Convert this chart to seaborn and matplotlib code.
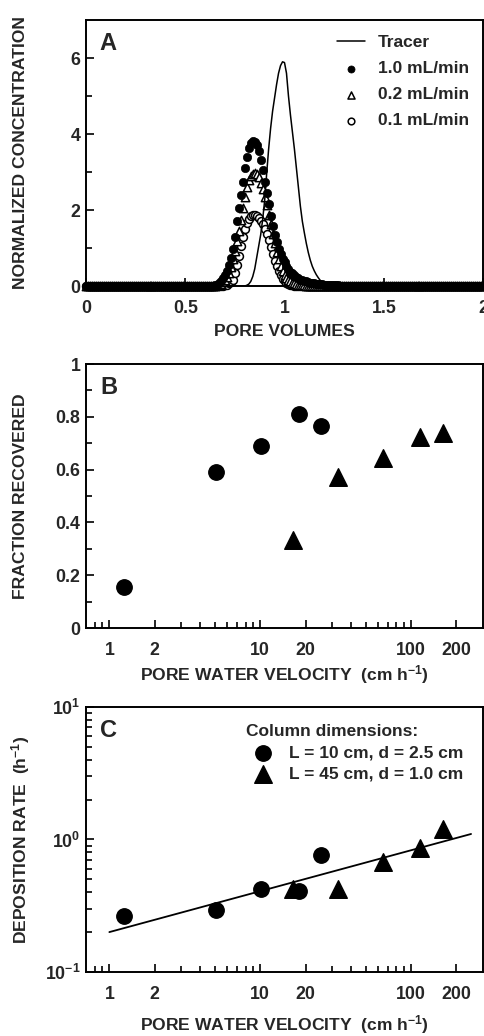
import matplotlib
matplotlib.use("Agg")
import matplotlib.pyplot as plt
import numpy as np
import seaborn as sns
from matplotlib.ticker import FixedLocator, LogFormatterMathtext, LogLocator, NullFormatter

# Panel A: breakthrough curves, sampled every 0.01 pore volumes
PORE_VOLUMES = np.round(np.arange(201) * 0.01, 2)

TRACER_PV = [0.0, 0.80, 0.81, 0.82, 0.83, 0.84, 0.85, 0.86, 0.87, 0.88, 0.89,
             0.90, 0.91, 0.92, 0.93, 0.94, 0.95, 0.96, 0.97, 0.98, 0.99,
             1.00, 1.01, 1.02, 1.03, 1.04, 1.05, 1.06, 1.07, 1.08, 1.09,
             1.10, 1.11, 1.12, 1.13, 1.14, 1.15, 1.16, 1.17, 1.18, 1.19,
             1.20, 1.21, 1.22, 1.23, 1.25, 2.0]
TRACER_CONC = [0.0, 0.0, 0.02, 0.05, 0.12, 0.25, 0.45, 0.75, 1.05, 1.35, 1.75,
               2.25, 2.95, 3.60, 4.15, 4.60, 4.95, 5.30, 5.60, 5.80, 5.90,
               5.88, 5.60, 5.00, 4.50, 4.05, 3.60, 3.10, 2.60, 2.10, 1.70,
               1.40, 1.12, 0.88, 0.68, 0.52, 0.40, 0.30, 0.22, 0.15, 0.10,
               0.07, 0.05, 0.03, 0.02, 0.0, 0.0]

# values from 0.60 to 1.30 PV, zero elsewhere
FLOW_1_0 = [0.0] * 60 + [
    0.00, 0.00, 0.00, 0.01, 0.01, 0.02, 0.04, 0.08, 0.14, 0.22,
    0.30, 0.40, 0.55, 0.75, 0.98, 1.30, 1.70, 2.05, 2.40, 2.75,
    3.10, 3.40, 3.62, 3.76, 3.82, 3.80, 3.72, 3.55, 3.32, 3.05,
    2.75, 2.45, 2.15, 1.85, 1.58, 1.35, 1.15, 0.98, 0.84, 0.72,
    0.62, 0.53, 0.45, 0.38, 0.33, 0.28, 0.24, 0.20, 0.17, 0.15,
    0.13, 0.12, 0.10, 0.09, 0.08, 0.07, 0.06, 0.06, 0.05, 0.05,
    0.04, 0.04, 0.03, 0.03, 0.03, 0.02, 0.02, 0.02, 0.01, 0.01,
    0.01] + [0.0] * 70
FLOW_0_2 = [0.0] * 60 + [
    0.00, 0.00, 0.00, 0.00, 0.00, 0.01, 0.02, 0.03, 0.06, 0.10,
    0.16, 0.24, 0.35, 0.50, 0.70, 0.92, 1.18, 1.45, 1.75, 2.05,
    2.35, 2.60, 2.78, 2.90, 2.96, 2.97, 2.94, 2.86, 2.72, 2.55,
    2.35, 2.12, 1.88, 1.62, 1.36, 1.12, 0.90, 0.70, 0.54, 0.40,
    0.30, 0.22, 0.16, 0.12, 0.09, 0.07, 0.05, 0.04, 0.03, 0.02,
    0.02, 0.01, 0.01] + [0.0] * 88
FLOW_0_1 = [0.0] * 69 + [
    0.01, 0.02, 0.04, 0.07, 0.11, 0.17, 0.35, 0.55, 0.80, 1.05,
    1.30, 1.50, 1.65, 1.76, 1.83, 1.86, 1.87, 1.85, 1.80, 1.72,
    1.62, 1.50, 1.36, 1.20, 1.02, 0.84, 0.67, 0.52, 0.39, 0.28,
    0.19, 0.13, 0.08, 0.05, 0.03, 0.02, 0.01] + [0.0] * 95

# Panels B and C: short (L = 10 cm) and long (L = 45 cm) columns
VELOCITY_SHORT = [1.26, 5.08, 10.2, 18.2, 25.3]
VELOCITY_LONG = [16.6, 32.6, 65.0, 115.0, 163.0]
RECOVERY_SHORT = [0.155, 0.59, 0.688, 0.809, 0.766]
RECOVERY_LONG = [0.333, 0.574, 0.645, 0.724, 0.739]
DEPOSITION_SHORT = [0.264, 0.295, 0.42, 0.41, 0.762]
DEPOSITION_LONG = [0.42, 0.42, 0.675, 0.865, 1.19]
FIT_VELOCITY = [1.0, 250.0]
FIT_RATE = [0.2, 1.10]

VEL_TICKS = [1, 2, 10, 20, 100, 200]
VEL_MINOR = [0.8, 0.9, 3, 4, 5, 6, 7, 8, 9, 30, 40, 50, 60, 70, 80, 90]
VEL_LABEL = "PORE WATER VELOCITY  (cm h$^{-1}$)"

sns.set_style("ticks")
plt.rcParams["font.family"] = ["Liberation Sans", "DejaVu Sans"]
plt.rcParams["font.weight"] = "bold"
plt.rcParams["mathtext.fontset"] = "custom"
plt.rcParams["mathtext.rm"] = "Liberation Sans:bold"
plt.rcParams["mathtext.default"] = "regular"
plt.rcParams["axes.edgecolor"] = "black"
plt.rcParams["axes.linewidth"] = 1.4


def style_axis(ax, letter, xlabel, ylabel, xlab_y, ylab_x=-0.166):
    ax.tick_params(which="both", direction="in", color="black", width=1.2,
                   labelsize=12.8, top=False, right=False)
    ax.tick_params(axis="x", which="both", pad=10)
    ax.tick_params(axis="y", which="both", pad=4)
    ax.tick_params(which="major", length=6)
    ax.tick_params(which="minor", length=4)
    ax.set_xlabel(xlabel, fontsize=12.6, fontweight="bold", va="center")
    ax.set_ylabel(ylabel, fontsize=12.6, fontweight="bold", va="center")
    ax.xaxis.set_label_coords(0.5, xlab_y)
    ax.yaxis.set_label_coords(ylab_x, 0.5)
    ax.text(0.035, 0.955, letter, transform=ax.transAxes, fontsize=17,
            fontweight="bold", va="top", ha="left")


def velocity_axis(ax):
    ax.set_xscale("log")
    ax.set_xlim(0.7, 300)
    ax.xaxis.set_major_locator(FixedLocator(VEL_TICKS))
    ax.xaxis.set_minor_locator(FixedLocator(VEL_MINOR))
    ax.set_xticklabels([str(v) for v in VEL_TICKS])
    ax.xaxis.set_minor_formatter(NullFormatter())


fig = plt.figure(figsize=(4.85, 10.36), dpi=100)
ax_a = fig.add_axes([0.1773, 0.7239, 0.8186, 0.2568])
ax_b = fig.add_axes([0.1773, 0.3938, 0.8186, 0.2548])
ax_c = fig.add_axes([0.1773, 0.0618, 0.8186, 0.2558])

# --- A: breakthrough curves (filled circles drawn last so the baseline is solid)
sns.lineplot(x=TRACER_PV, y=TRACER_CONC, color="black", linewidth=1.1,
             label="Tracer", ax=ax_a, zorder=5)
sns.scatterplot(x=PORE_VOLUMES, y=FLOW_1_0, marker="o", s=36, color="black",
                edgecolor="black", linewidth=0.5, label="1.0 mL/min",
                clip_on=False, zorder=4, ax=ax_a)
sns.scatterplot(x=PORE_VOLUMES, y=FLOW_0_2, marker="^", s=36, color="white",
                edgecolor="black", linewidth=1.1, label="0.2 mL/min",
                clip_on=False, zorder=3, ax=ax_a)
sns.scatterplot(x=PORE_VOLUMES, y=FLOW_0_1, marker="o", s=32, color="white",
                edgecolor="black", linewidth=1.1, label="0.1 mL/min",
                clip_on=False, zorder=2, ax=ax_a)
ax_a.set_xlim(0, 2)
ax_a.set_ylim(0, 7)
ax_a.set_xticks([0, 0.5, 1, 1.5, 2])
ax_a.set_xticklabels(["0", "0.5", "1", "1.5", "2"])
ax_a.set_yticks([0, 2, 4, 6])
ax_a.set_yticks([1, 3, 5], minor=True)
ax_a.legend(loc="upper left", bbox_to_anchor=(0.632, 0.943), frameon=False,
            fontsize=12.5, handlelength=1.6, handletextpad=0.75,
            labelspacing=0.62, borderaxespad=0, borderpad=0,
            markerscale=0.85)
style_axis(ax_a, "A", "PORE VOLUMES", "NORMALIZED CONCENTRATION", -0.169)

# --- B: fraction recovered
sns.scatterplot(x=VELOCITY_SHORT, y=RECOVERY_SHORT, marker="o", s=125,
                color="black", edgecolor="black", ax=ax_b)
sns.scatterplot(x=VELOCITY_LONG, y=RECOVERY_LONG, marker="^", s=160,
                color="black", edgecolor="black", ax=ax_b)
velocity_axis(ax_b)
ax_b.set_ylim(0, 1)
ax_b.set_yticks([0, 0.2, 0.4, 0.6, 0.8, 1])
ax_b.set_yticklabels(["0", "0.2", "0.4", "0.6", "0.8", "1"])
ax_b.set_yticks([0.1, 0.3, 0.5, 0.7, 0.9], minor=True)
style_axis(ax_b, "B", VEL_LABEL, "FRACTION RECOVERED", -0.178)

# --- C: deposition rate
sns.lineplot(x=FIT_VELOCITY, y=FIT_RATE, color="black", linewidth=1.3,
             ax=ax_c, zorder=1)
sns.scatterplot(x=VELOCITY_SHORT, y=DEPOSITION_SHORT, marker="o", s=125,
                color="black", edgecolor="black", label="L = 10 cm, d = 2.5 cm",
                zorder=3, ax=ax_c)
sns.scatterplot(x=VELOCITY_LONG, y=DEPOSITION_LONG, marker="^", s=160,
                color="black", edgecolor="black", label="L = 45 cm, d = 1.0 cm",
                zorder=2, ax=ax_c)
velocity_axis(ax_c)
ax_c.set_yscale("log")
ax_c.set_ylim(0.1, 10)
ax_c.yaxis.set_major_locator(FixedLocator([0.1, 1, 10]))
ax_c.yaxis.set_major_formatter(LogFormatterMathtext())
ax_c.yaxis.set_minor_locator(LogLocator(subs=np.arange(2, 10)))
ax_c.yaxis.set_minor_formatter(NullFormatter())
ax_c.legend(loc="upper left", bbox_to_anchor=(0.403, 0.935), frameon=False,
            fontsize=12.5, title="Column dimensions:", title_fontsize=12.5,
            alignment="left", handletextpad=0.5, labelspacing=0.35,
            borderaxespad=0, borderpad=0)
style_axis(ax_c, "C", VEL_LABEL, "DEPOSITION RATE  (h$^{-1}$)", -0.2)

fig.savefig("out.png", dpi=100)
